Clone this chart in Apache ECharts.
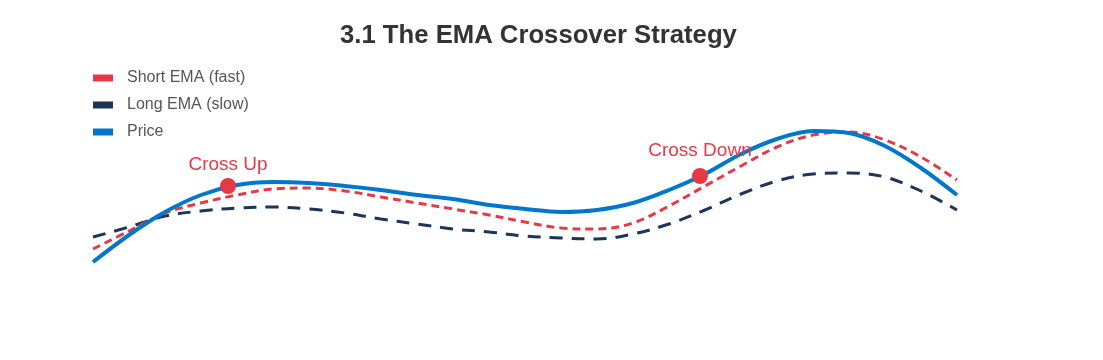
<!DOCTYPE html>
<html><head><meta charset="utf-8">
<script src="https://cdn.jsdelivr.net/npm/echarts@6/dist/echarts.min.js"></script>
<style>html,body{margin:0;padding:0;background:#fff}#c{width:1103px;height:360px}</style>
</head><body><div id="c"></div>
<script>
const xs = [0,1,2,3,4,5,6,7,8,9,10,11,12,13,14,15,16,17,18,19,20,21,22,23,24];
const price    = [19,32.5,44,52.5,57.5,59,58.5,57,55,52.5,50.5,47.5,45.5,44,45,48.5,55,63,73,80.5,84.5,83.5,77,66,52.5];
const shortEma = [25.5,34.5,43.5,48.5,52.5,55.5,56,54.5,51.5,48.5,45.5,42.5,39,36,35.5,38.5,47,57,67,76.5,82.5,84,80,71.5,60];
const longEma  = [31.5,36.5,42,44.5,46,46.5,45.5,43.5,40.5,38,35.5,34,32,31,30.5,33,38,45,53,59.5,63,63.5,61.5,54.5,45];
const crossX = [3.75, 16.86];
const crossY = [57, 62];
const crossLabels = ['Cross Up','Cross Down'];

const pair = a => xs.map((x,i)=>[x,a[i]]);
const FONT = 'Liberation Sans, Arial, sans-serif';
const chart = echarts.init(document.getElementById('c'));
chart.setOption({
  animation:false,
  title:{text:'3.1 The EMA Crossover Strategy',left:335,top:18,
    textStyle:{fontFamily:FONT,fontSize:25.7,fontWeight:'bold',color:'#333'}},
  legend:{orient:'vertical',left:93,top:70,padding:0,itemWidth:20,itemHeight:7,itemGap:11,
    data:['Short EMA (fast)','Long EMA (slow)','Price'],
    textStyle:{fontFamily:FONT,fontSize:16,color:'#555',padding:[0,0,0,9]},
    icon:'rect'},
  grid:{left:93,right:146,top:100,bottom:60},
  xAxis:{type:'value',min:0,max:24,show:false},
  yAxis:{type:'value',min:0,max:100,show:false},
  series:[
    {name:'Long EMA (slow)',type:'line',smooth:0.35,symbol:'none',data:pair(longEma),
     itemStyle:{color:'#1d3557'},lineStyle:{color:'#1d3557',width:3,type:[13,9]}},
    {name:'Short EMA (fast)',type:'line',smooth:0.35,symbol:'none',data:pair(shortEma),
     itemStyle:{color:'#e63946'},lineStyle:{color:'#e63946',width:3,type:[8,5]}},
    {name:'Price',type:'line',smooth:0.35,symbol:'none',data:pair(price),
     itemStyle:{color:'#0077cc'},lineStyle:{color:'#0077cc',width:4}},
    {name:'cross',type:'scatter',symbolSize:16,z:10,
     data:crossX.map((x,i)=>({value:[x,crossY[i]],
       label:{show:true,formatter:crossLabels[i],position:'top',distance:i===0?4:8,
         fontFamily:FONT,fontSize:19,color:'#e63946'}})),
     itemStyle:{color:'#e63946',opacity:1}}
  ]
});
</script></body></html>
